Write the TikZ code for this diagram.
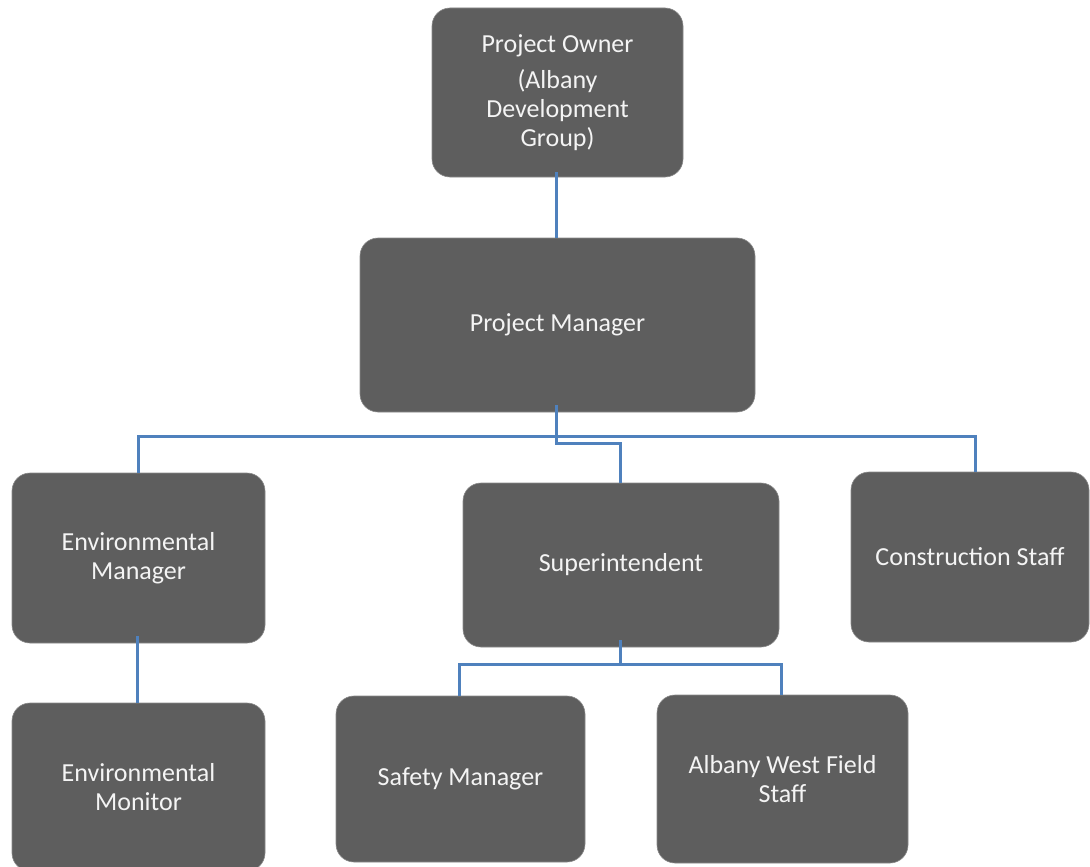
\documentclass[tikz,border=0pt]{standalone}
\usepackage{fontspec}
\setmainfont{Carlito}
\definecolor{boxgray}{HTML}{5E5E5E}
\definecolor{boxedge}{HTML}{8A8A8A}
\definecolor{boxtext}{HTML}{F4F4F4}
\definecolor{linkblue}{HTML}{4F81BD}
\begin{document}
\begin{tikzpicture}[x=1pt,y=-1pt,
  orgbox/.style n args={2}{draw=boxedge, line width=0.6pt, fill=boxgray,
    rounded corners=18pt, text=boxtext, align=center, inner sep=0pt,
    font=\fontsize{26}{29}\selectfont,
    minimum width=#1, minimum height=#2},
  link/.style={draw=linkblue, line width=3pt, line join=miter}]
  % canvas
  \fill[white] (0,0) rectangle (1090,867);
  \useasboundingbox (0,0) rectangle (1090,867);

  % boxes
  \node[orgbox={251pt}{169pt}] (owner) at (557.5,92.5)
    {Project Owner\\[7pt](Albany\\Development\\Group)};
  \node[orgbox={395pt}{174pt}] (pm) at (557.5,325) {Project Manager};
  \node[orgbox={253pt}{170pt}] (em) at (138.5,558) {Environmental\\Manager};
  \node[orgbox={316pt}{164pt}] (sup) at (621,565) {Superintendent};
  \node[orgbox={238pt}{170pt}] (cs) at (970,557) {Construction Staff};
  \node[orgbox={253pt}{168pt}] (emon) at (138.5,787) {Environmental\\Monitor};
  \node[orgbox={249pt}{166pt}] (safety) at (460.5,779) {Safety Manager};
  \node[orgbox={251pt}{168pt}] (albany) at (782.5,779) {Albany West Field\\Staff};

  % reporting lines
  \draw[link] ([xshift=-1.5pt,yshift=5pt]owner.south) -- ([xshift=-1.5pt]pm.north);
  \draw[link] ([xshift=-1.5pt,yshift=7pt]pm.south) -- ([xshift=-1.5pt]pm.south |- 0,443)
    -| ([xshift=-1pt]sup.north);
  \draw[link] (em.north) |- ([xshift=-1.5pt]pm.south |- 0,436) -| ([xshift=5pt]cs.north);
  \draw[link] ([xshift=-1.5pt,yshift=7pt]em.south) -- ([xshift=-1.5pt]emon.north);
  \draw[link] ([xshift=-1pt,yshift=7pt]sup.south) -- ++(0,24) coordinate (suphub);
  \draw[link] (suphub) -| ([xshift=-1.5pt]safety.north);
  \draw[link] (suphub) -| ([xshift=-1pt]albany.north);
\end{tikzpicture}
\end{document}
